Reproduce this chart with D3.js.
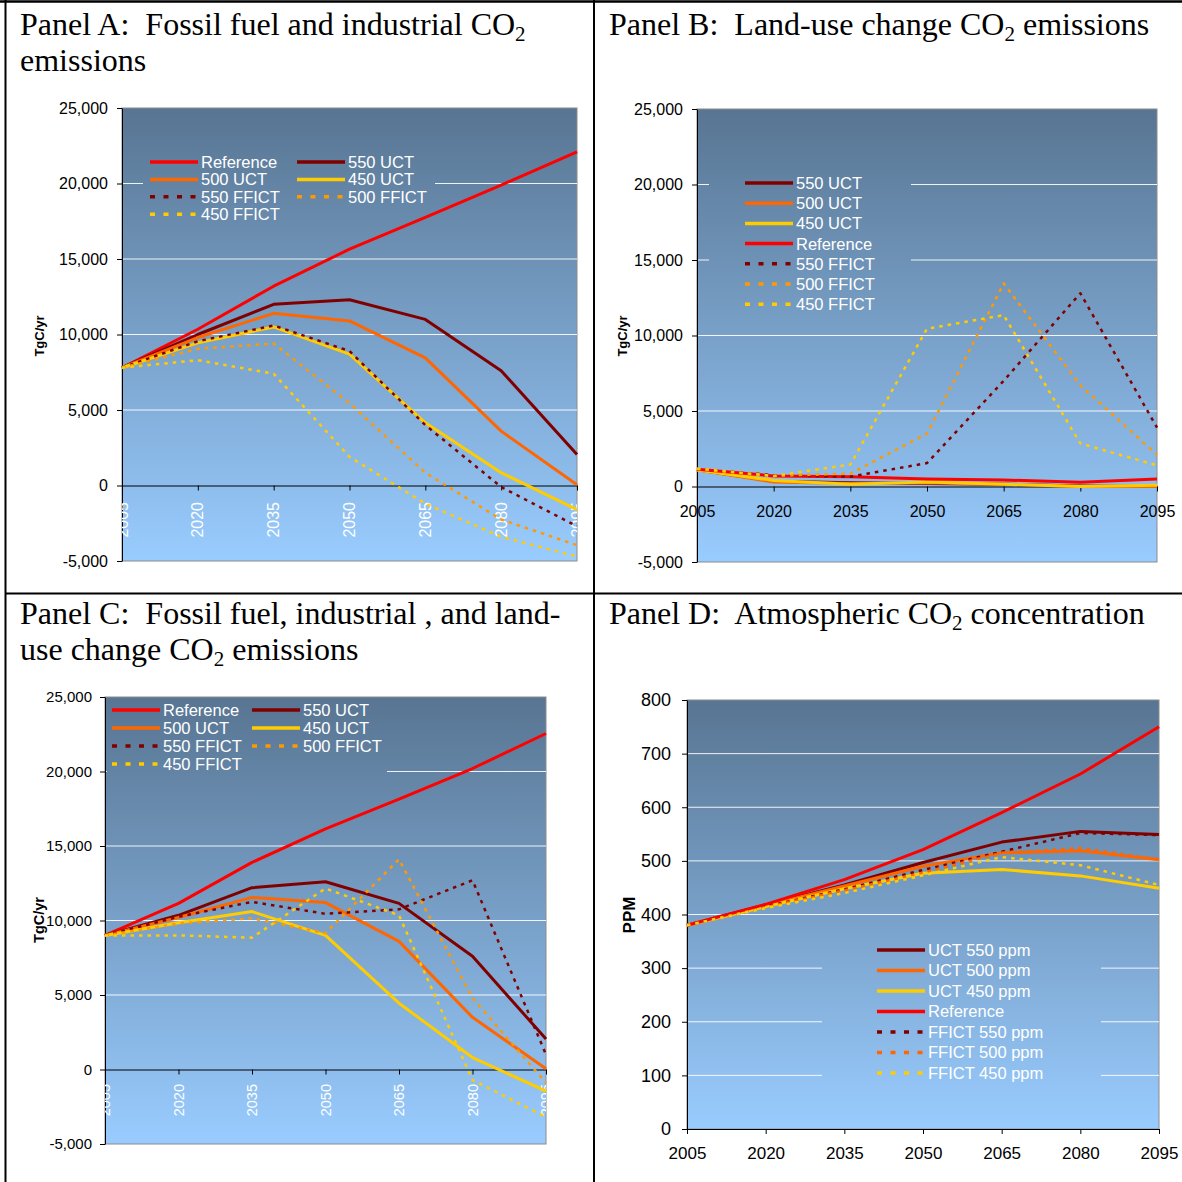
<!DOCTYPE html>
<html>
<head>
<meta charset="utf-8">
<script src="https://cdn.jsdelivr.net/npm/d3@7"></script>
<style>
  body { margin: 0; background: #fff; }
  svg { display: block; }
  text { white-space: pre; }
</style>
</head>
<body>
<script>
// ---- Categories and tick values ----
const years = ["2005", "2020", "2035", "2050", "2065", "2080", "2095"];
const emissionTicks = [-5000, 0, 5000, 10000, 15000, 20000, 25000];
const ppmTicks = [0, 100, 200, 300, 400, 500, 600, 700, 800];

// ---- Panel A: fossil fuel and industrial CO2 emissions (TgC/yr) ----
const aReference = [7800, 10350, 13200, 15650, 17750, 19900, 22100];
const aUct550    = [7800, 10000, 12000, 12300, 11000, 7600, 2050];
const aUct500    = [7800, 9800, 11400, 10900, 8450, 3600, 50];
const aUct450    = [7800, 9450, 10500, 8700, 4150, 850, -1600];
const aFfict550  = [7800, 9550, 10600, 8900, 4000, -100, -2700];
const aFfict500  = [7800, 9050, 9400, 5450, 850, -2250, -3950];
const aFfict450  = [7800, 8300, 7400, 1900, -1200, -3400, -4700];

// ---- Panel B: land-use change CO2 emissions (TgC/yr) ----
const bUct550    = [1100, 350, 250, 200, 150, 30, 0];
const bUct500    = [1100, 300, 200, 250, 150, 0, 0];
const bUct450    = [1100, 400, 150, 300, 150, 0, 80];
const bReference = [1150, 700, 650, 500, 430, 280, 500];
const bFfict550  = [1150, 750, 650, 1550, 7000, 12800, 3900];
const bFfict500  = [1150, 700, 850, 3500, 13450, 6700, 2100];
const bFfict450  = [1200, 700, 1450, 10450, 11350, 2850, 1400];

// ---- Panel C: fossil fuel, industrial and land-use change CO2 emissions (TgC/yr) ----
const cReference = [9000, 11150, 13900, 16150, 18150, 20200, 22550];
const cUct550    = [9000, 10350, 12200, 12600, 11150, 7600, 2050];
const cUct500    = [9000, 10200, 11550, 11200, 8600, 3500, 50];
const cUct450    = [9000, 9850, 10600, 9000, 4450, 800, -1450];
const cFfict550  = [9000, 10250, 11250, 10450, 10750, 12700, 1000];
const cFfict500  = [9000, 9800, 10150, 9150, 14100, 4800, -900];
const cFfict450  = [9000, 9000, 8850, 12150, 10350, -700, -3200];

// ---- Panel D: atmospheric CO2 concentration (ppm) ----
const dUct550    = [380, 418, 455, 497, 535, 555, 549];
const dUct500    = [380, 417, 453, 490, 515, 519, 502];
const dUct450    = [380, 415, 448, 477, 484, 472, 449];
const dReference = [380, 419, 465, 521, 590, 662, 750];
const dFfict550  = [380, 415, 447, 483, 517, 552, 548];
const dFfict500  = [380, 414, 445, 478, 515, 524, 503];
const dFfict450  = [380, 412, 440, 473, 507, 492, 455];

// ---- Series names ----
const namesAC = ["Reference", "550 UCT", "500 UCT", "450 UCT", "550 FFICT", "500 FFICT", "450 FFICT"];
const namesB  = ["550 UCT", "500 UCT", "450 UCT", "Reference", "550 FFICT", "500 FFICT", "450 FFICT"];
const namesD  = ["UCT 550 ppm", "UCT 500 ppm", "UCT 450 ppm", "Reference", "FFICT 550 ppm", "FFICT 500 ppm", "FFICT 450 ppm"];

// ---- Styles ----
const RED = "#FF0000", MAROON = "#800000", ORANGE = "#FF6600", AMBER = "#FF9900", GOLD = "#FFCC00";
const styleAC = [
  { color: RED, dash: false }, { color: MAROON, dash: false },
  { color: ORANGE, dash: false }, { color: GOLD, dash: false },
  { color: MAROON, dash: true }, { color: AMBER, dash: true }, { color: GOLD, dash: true }
];
const styleB = [
  { color: MAROON, dash: false }, { color: ORANGE, dash: false }, { color: GOLD, dash: false },
  { color: RED, dash: false },
  { color: MAROON, dash: true }, { color: AMBER, dash: true }, { color: GOLD, dash: true }
];
const styleD = [
  { color: MAROON, dash: false }, { color: ORANGE, dash: false }, { color: GOLD, dash: false },
  { color: RED, dash: false },
  { color: MAROON, dash: true }, { color: ORANGE, dash: true }, { color: GOLD, dash: true }
];

const W = 1182, H = 1182;
const svg = d3.select("body").append("svg")
  .attr("width", W).attr("height", H)
  .style("font-family", "'Liberation Sans', Arial, sans-serif");
const defs = svg.append("defs");

const fmt = d => d3.format(",")(d).replace("\u2212", "-");

function drawTitle(x, y, lines) {
  const t = svg.append("text")
    .attr("x", x).attr("y", y)
    .style("font-family", "'Liberation Serif', 'Times New Roman', serif")
    .style("font-size", "32px").attr("fill", "#000");
  lines.forEach((parts, li) => {
    parts.forEach((p, pi) => {
      const ts = t.append("tspan").text(p.text);
      if (pi === 0) ts.attr("x", x).attr("y", y + li * 36);
      if (p.sub) ts.style("font-size", "21px").attr("dy", 6);
      if (p.after) ts.attr("dy", -6);
    });
  });
}

function drawPanel(cfg) {
  const { id, left, right, top, bottom } = cfg;
  const x = d3.scalePoint().domain(years).range([left, right]).padding(0);
  const y = d3.scaleLinear().domain(cfg.domain).range([bottom, top]);

  // background gradient of the plot area
  const grad = defs.append("linearGradient").attr("id", "bg" + id)
    .attr("gradientUnits", "userSpaceOnUse")
    .attr("x1", 0).attr("y1", top).attr("x2", 0).attr("y2", bottom);
  grad.append("stop").attr("offset", 0).attr("stop-color", "#587592");
  grad.append("stop").attr("offset", 1).attr("stop-color", "#99CCFF");

  const clip = defs.append("clipPath").attr("id", "clip" + id);
  clip.append("rect").attr("x", left).attr("y", top).attr("width", right - left).attr("height", bottom - top);

  const g = svg.append("g");
  g.append("rect").attr("x", left).attr("y", top)
    .attr("width", right - left).attr("height", bottom - top)
    .attr("fill", `url(#bg${id})`).attr("stroke", "#8C8C8C").attr("stroke-width", 1);

  // horizontal gridlines
  g.append("g").selectAll("line")
    .data(cfg.ticks.filter(t => t !== cfg.domain[0] && t !== cfg.domain[1] && t !== cfg.baseline))
    .join("line")
    .attr("x1", left).attr("x2", right)
    .attr("y1", d => y(d)).attr("y2", d => y(d))
    .attr("stroke", "#FFFFFF").attr("stroke-width", 1).attr("stroke-opacity", 0.9);

  // legend backdrop (same fill as the plot area, hides gridlines behind it)
  const lg = cfg.legend;
  g.append("rect").attr("x", lg.box[0]).attr("y", lg.box[1])
    .attr("width", lg.box[2] - lg.box[0]).attr("height", lg.box[3] - lg.box[1])
    .attr("fill", `url(#bg${id})`);

  // y axis
  const yAxis = g.append("g").attr("transform", `translate(${left},0)`)
    .call(d3.axisLeft(y).tickValues(cfg.ticks).tickFormat(fmt)
      .tickSize(5).tickSizeOuter(0).tickPadding(cfg.yPad));
  yAxis.select(".domain").attr("stroke", "#000");
  yAxis.selectAll(".tick line").attr("stroke", "#000");
  yAxis.selectAll("text").attr("fill", "#000").style("font-size", cfg.yFont + "px")
    .style("font-family", "'Liberation Sans', Arial, sans-serif");

  // x axis
  const xAxis = g.append("g").attr("transform", `translate(0,${y(cfg.baseline)})`)
    .call(d3.axisBottom(x).tickSize(5).tickSizeOuter(0)
      .tickPadding(cfg.xPad || 3)
      .tickFormat(cfg.xMode === "rotated" ? "" : d => d));
  xAxis.select(".domain").attr("stroke", "#000");
  xAxis.selectAll(".tick line").attr("stroke", "#000");
  xAxis.selectAll("text").attr("fill", "#000").style("font-size", cfg.xFont + "px")
    .style("font-family", "'Liberation Sans', Arial, sans-serif");

  if (cfg.xMode === "rotated") {
    g.append("g").attr("clip-path", `url(#clip${id})`)
      .selectAll("text").data(years).join("text")
      .attr("transform", d => `translate(${x(d)},${cfg.labelEndY}) rotate(-90)`)
      .attr("text-anchor", "end").attr("dy", "0.35em")
      .attr("fill", "#FFFFFF").style("font-size", cfg.xFont + "px")
      .text(d => d);
  }

  // y axis title
  g.append("text")
    .attr("transform", `translate(${cfg.yTitle[0]},${cfg.yTitle[1]}) rotate(-90)`)
    .attr("text-anchor", "middle")
    .style("font-weight", "bold").style("font-size", cfg.yTitle[2] + "px")
    .attr("fill", "#000").text(cfg.yTitle[3]);

  // series lines
  const line = d3.line().x((d, i) => x(years[i])).y(d => y(d));
  g.append("g").selectAll("path").data(cfg.series).join("path")
    .attr("d", s => line(s.values))
    .attr("fill", "none")
    .attr("stroke", s => s.style.color)
    .attr("stroke-width", s => s.style.dash ? 2.5 : 3)
    .attr("stroke-dasharray", s => s.style.dash ? "3.5,5" : null)
    .attr("stroke-linejoin", "round");

  // legend entries
  const items = g.append("g").selectAll("g").data(cfg.series).join("g")
    .attr("transform", (s, i) => {
      const col = i % lg.cols, row = Math.floor(i / lg.cols);
      return `translate(${lg.x0 + col * lg.colStep},${lg.y0 + row * lg.rowStep})`;
    });
  items.append("line").attr("x1", 0).attr("x2", 48).attr("y1", 0).attr("y2", 0)
    .attr("stroke", s => s.style.color).attr("stroke-width", 3.5)
    .attr("stroke-dasharray", s => s.style.dash ? "5,8.5" : null);
  items.append("text").attr("x", 51).attr("dy", "0.36em")
    .attr("fill", "#FFFFFF").style("font-size", "16.5px")
    .text(s => s.name);
}

function bundle(names, styles, arrays) {
  return names.map((n, i) => ({ name: n, style: styles[i], values: arrays[i] }));
}

// ---- Table frame ----
svg.append("line").attr("x1", 0).attr("x2", W).attr("y1", 1.5).attr("y2", 1.5).attr("stroke", "#000").attr("stroke-width", 2.5);
svg.append("line").attr("x1", 5.5).attr("x2", 5.5).attr("y1", 0).attr("y2", H).attr("stroke", "#000").attr("stroke-width", 2);
svg.append("line").attr("x1", 594).attr("x2", 594).attr("y1", 0).attr("y2", H).attr("stroke", "#000").attr("stroke-width", 2);
svg.append("line").attr("x1", 5).attr("x2", W).attr("y1", 593.5).attr("y2", 593.5).attr("stroke", "#000").attr("stroke-width", 2);

// ---- Titles ----
drawTitle(20, 35, [
  [{ text: "Panel A:  Fossil fuel and industrial CO" }, { text: "2", sub: true }],
  [{ text: "emissions" }]
]);
drawTitle(609, 35, [
  [{ text: "Panel B:  Land-use change CO" }, { text: "2", sub: true }, { text: " emissions", after: true }]
]);
drawTitle(20, 624, [
  [{ text: "Panel C:  Fossil fuel, industrial , and land-" }],
  [{ text: "use change CO" }, { text: "2", sub: true }, { text: " emissions", after: true }]
]);
drawTitle(609, 624, [
  [{ text: "Panel D:  Atmospheric CO" }, { text: "2", sub: true }, { text: " concentration", after: true }]
]);

// ---- Panels ----
drawPanel({
  id: "A", left: 122, right: 577, top: 108, bottom: 561,
  domain: [-5000, 25000], ticks: emissionTicks, baseline: 0,
  yFont: 16, yPad: 9, xFont: 16, xMode: "rotated", labelEndY: 502,
  yTitle: [44, 336, 13, "TgC/yr"],
  legend: { box: [143, 150, 435, 225], x0: 150, y0: 162, cols: 2, colStep: 147, rowStep: 17.4 },
  series: bundle(namesAC, styleAC, [aReference, aUct550, aUct500, aUct450, aFfict550, aFfict500, aFfict450])
});

drawPanel({
  id: "B", left: 697, right: 1157, top: 109, bottom: 562,
  domain: [-5000, 25000], ticks: emissionTicks, baseline: 0,
  yFont: 16, yPad: 9, xFont: 16, xPad: 14, xMode: "plain",
  yTitle: [627, 336, 13, "TgC/yr"],
  legend: { box: [709, 168, 911, 316], x0: 745, y0: 183, cols: 1, colStep: 0, rowStep: 20.2 },
  series: bundle(namesB, styleB, [bUct550, bUct500, bUct450, bReference, bFfict550, bFfict500, bFfict450])
});

drawPanel({
  id: "C", left: 105, right: 546, top: 697, bottom: 1144,
  domain: [-5000, 25000], ticks: emissionTicks, baseline: 0,
  yFont: 15, yPad: 8, xFont: 14.5, xMode: "rotated", labelEndY: 1084,
  yTitle: [44, 920, 14.5, "TgC/yr"],
  legend: { box: [107, 698, 387, 776], x0: 112, y0: 710, cols: 2, colStep: 140, rowStep: 18 },
  series: bundle(namesAC, styleAC, [cReference, cUct550, cUct500, cUct450, cFfict550, cFfict500, cFfict450])
});

drawPanel({
  id: "D", left: 687, right: 1159, top: 700, bottom: 1129,
  domain: [0, 800], ticks: ppmTicks, baseline: 0,
  yFont: 18, yPad: 11, xFont: 17, xPad: 13, xMode: "plain",
  yTitle: [635, 915, 17, "PPM"],
  legend: { box: [822, 935, 1101, 1090], x0: 877, y0: 950, cols: 1, colStep: 0, rowStep: 20.5 },
  series: bundle(namesD, styleD, [dUct550, dUct500, dUct450, dReference, dFfict550, dFfict500, dFfict450])
});
</script>
</body>
</html>
